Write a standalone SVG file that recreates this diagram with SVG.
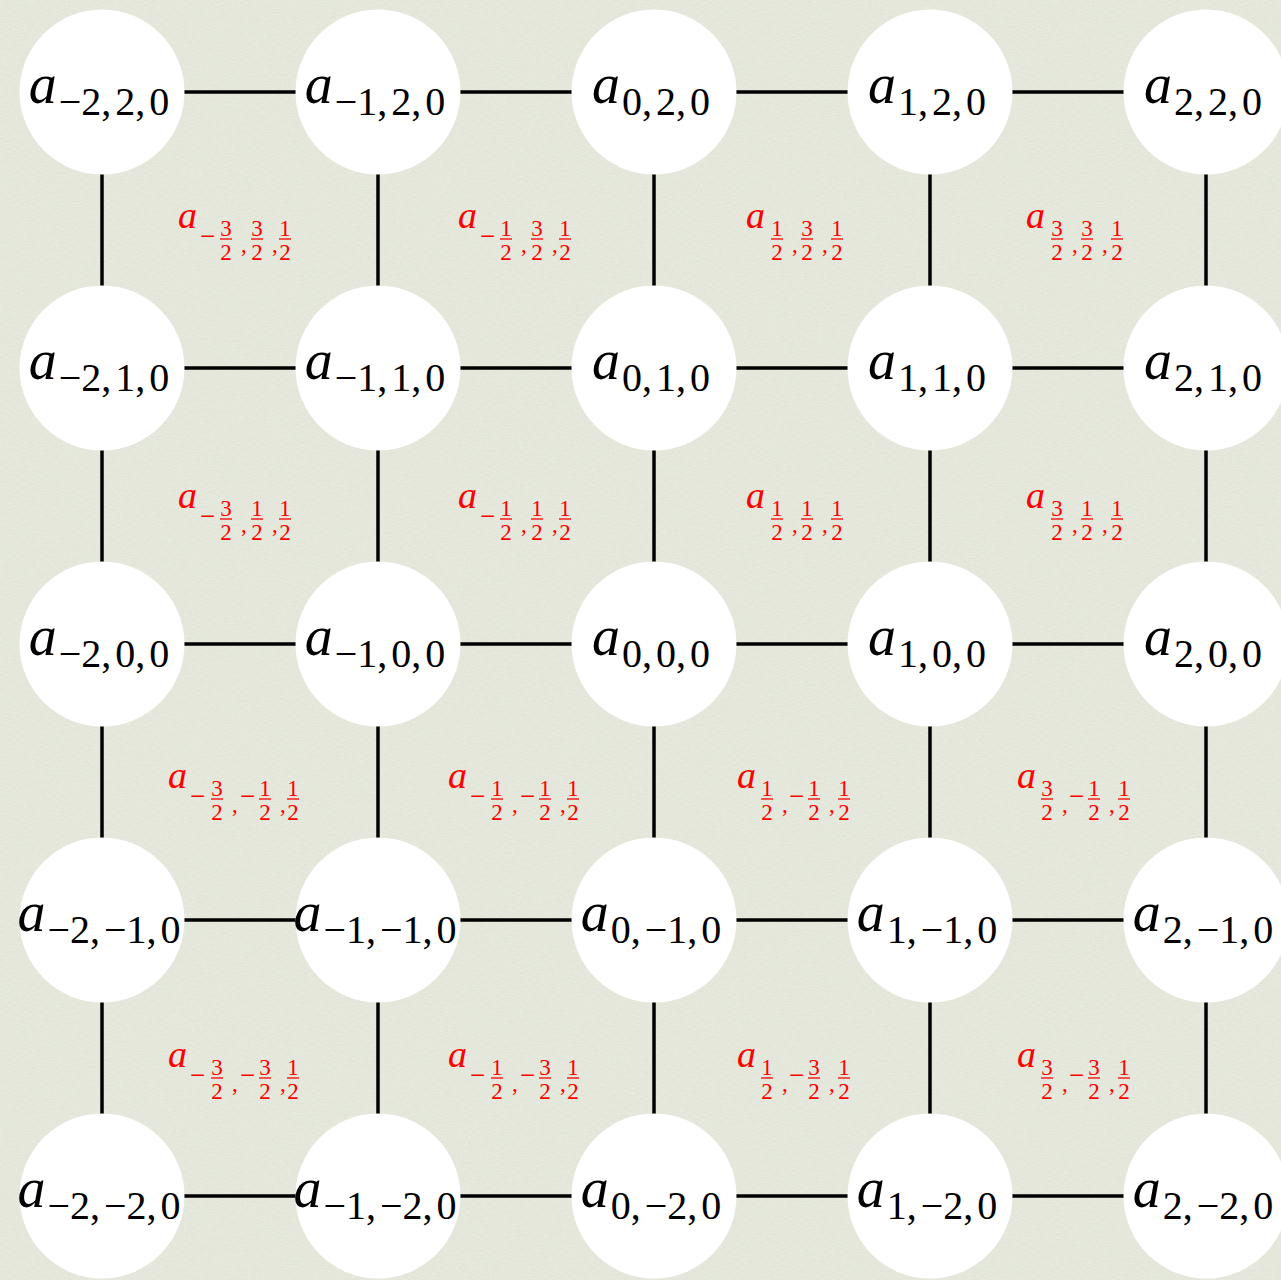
<svg xmlns="http://www.w3.org/2000/svg" width="1281" height="1280" viewBox="0 0 1281 1280">
<defs>
<filter id="tex" x="0" y="0" width="100%" height="100%">
<feTurbulence type="fractalNoise" baseFrequency="0.25 0.9" numOctaves="2" seed="7" result="n"/>
<feColorMatrix in="n" type="matrix" values="0 0 0 0 1  0 0 0 0 1  0 0 0 0 1  0.5 0 0 0 -0.18"/>
</filter>
</defs>
<style>
.node circle{fill:#ffffff;stroke:none}
.edges line{stroke:#000000;stroke-width:3.5}
.n{fill:#000000;text-anchor:middle}
.n .a{font-style:italic;font-size:56px}
.n .s{font-size:40px}
.r text{fill:#ff0000}
.r .ra{font-style:italic;font-size:38px}
.r .d{font-size:23px;text-anchor:middle}
.r .m{font-size:27px}
.r .c{font-size:23px}
.r line{stroke:#ff0000;stroke-width:1.3}
</style>
<rect width="1281" height="1280" fill="#e2e5d8"/>
<rect width="1281" height="1280" fill="#000" filter="url(#tex)"/>

<g id="connectors" class="edges">
<line x1="184" y1="92" x2="296" y2="92"/><line x1="460" y1="92" x2="572" y2="92"/><line x1="736" y1="92" x2="848" y2="92"/><line x1="1012" y1="92" x2="1124" y2="92"/>
<line x1="184" y1="368" x2="296" y2="368"/><line x1="460" y1="368" x2="572" y2="368"/><line x1="736" y1="368" x2="848" y2="368"/><line x1="1012" y1="368" x2="1124" y2="368"/>
<line x1="184" y1="644" x2="296" y2="644"/><line x1="460" y1="644" x2="572" y2="644"/><line x1="736" y1="644" x2="848" y2="644"/><line x1="1012" y1="644" x2="1124" y2="644"/>
<line x1="184" y1="920" x2="296" y2="920"/><line x1="460" y1="920" x2="572" y2="920"/><line x1="736" y1="920" x2="848" y2="920"/><line x1="1012" y1="920" x2="1124" y2="920"/>
<line x1="184" y1="1196" x2="296" y2="1196"/><line x1="460" y1="1196" x2="572" y2="1196"/><line x1="736" y1="1196" x2="848" y2="1196"/><line x1="1012" y1="1196" x2="1124" y2="1196"/>
<line x1="102" y1="174" x2="102" y2="286"/><line x1="378" y1="174" x2="378" y2="286"/><line x1="654" y1="174" x2="654" y2="286"/><line x1="930" y1="174" x2="930" y2="286"/><line x1="1206" y1="174" x2="1206" y2="286"/>
<line x1="102" y1="450" x2="102" y2="562"/><line x1="378" y1="450" x2="378" y2="562"/><line x1="654" y1="450" x2="654" y2="562"/><line x1="930" y1="450" x2="930" y2="562"/><line x1="1206" y1="450" x2="1206" y2="562"/>
<line x1="102" y1="726" x2="102" y2="838"/><line x1="378" y1="726" x2="378" y2="838"/><line x1="654" y1="726" x2="654" y2="838"/><line x1="930" y1="726" x2="930" y2="838"/><line x1="1206" y1="726" x2="1206" y2="838"/>
<line x1="102" y1="1002" x2="102" y2="1114"/><line x1="378" y1="1002" x2="378" y2="1114"/><line x1="654" y1="1002" x2="654" y2="1114"/><line x1="930" y1="1002" x2="930" y2="1114"/><line x1="1206" y1="1002" x2="1206" y2="1114"/>
</g>

<g font-family="'Liberation Serif', serif">
<!-- row y=2 -->
<g id="n-m2-2" class="node"><circle cx="102" cy="92" r="82.5"/><text class="n" x="99" y="103"><tspan class="a">a</tspan><tspan class="s" dy="12" dx="2">−2,</tspan><tspan class="s" dx="4">2,</tspan><tspan class="s" dx="4">0</tspan></text></g>
<g id="n-m1-2" class="node"><circle cx="378" cy="92" r="82.5"/><text class="n" x="375" y="103"><tspan class="a">a</tspan><tspan class="s" dy="12" dx="2">−1,</tspan><tspan class="s" dx="4">2,</tspan><tspan class="s" dx="4">0</tspan></text></g>
<g id="n-0-2" class="node"><circle cx="654" cy="92" r="82.5"/><text class="n" x="651" y="103"><tspan class="a">a</tspan><tspan class="s" dy="12" dx="2">0,</tspan><tspan class="s" dx="4">2,</tspan><tspan class="s" dx="4">0</tspan></text></g>
<g id="n-1-2" class="node"><circle cx="930" cy="92" r="82.5"/><text class="n" x="927" y="103"><tspan class="a">a</tspan><tspan class="s" dy="12" dx="2">1,</tspan><tspan class="s" dx="4">2,</tspan><tspan class="s" dx="4">0</tspan></text></g>
<g id="n-2-2" class="node"><circle cx="1206" cy="92" r="82.5"/><text class="n" x="1203" y="103"><tspan class="a">a</tspan><tspan class="s" dy="12" dx="2">2,</tspan><tspan class="s" dx="4">2,</tspan><tspan class="s" dx="4">0</tspan></text></g>
<!-- row y=1 -->
<g id="n-m2-1" class="node"><circle cx="102" cy="368" r="82.5"/><text class="n" x="99" y="379"><tspan class="a">a</tspan><tspan class="s" dy="12" dx="2">−2,</tspan><tspan class="s" dx="4">1,</tspan><tspan class="s" dx="4">0</tspan></text></g>
<g id="n-m1-1" class="node"><circle cx="378" cy="368" r="82.5"/><text class="n" x="375" y="379"><tspan class="a">a</tspan><tspan class="s" dy="12" dx="2">−1,</tspan><tspan class="s" dx="4">1,</tspan><tspan class="s" dx="4">0</tspan></text></g>
<g id="n-0-1" class="node"><circle cx="654" cy="368" r="82.5"/><text class="n" x="651" y="379"><tspan class="a">a</tspan><tspan class="s" dy="12" dx="2">0,</tspan><tspan class="s" dx="4">1,</tspan><tspan class="s" dx="4">0</tspan></text></g>
<g id="n-1-1" class="node"><circle cx="930" cy="368" r="82.5"/><text class="n" x="927" y="379"><tspan class="a">a</tspan><tspan class="s" dy="12" dx="2">1,</tspan><tspan class="s" dx="4">1,</tspan><tspan class="s" dx="4">0</tspan></text></g>
<g id="n-2-1" class="node"><circle cx="1206" cy="368" r="82.5"/><text class="n" x="1203" y="379"><tspan class="a">a</tspan><tspan class="s" dy="12" dx="2">2,</tspan><tspan class="s" dx="4">1,</tspan><tspan class="s" dx="4">0</tspan></text></g>
<!-- row y=0 -->
<g id="n-m2-0" class="node"><circle cx="102" cy="644" r="82.5"/><text class="n" x="99" y="655"><tspan class="a">a</tspan><tspan class="s" dy="12" dx="2">−2,</tspan><tspan class="s" dx="4">0,</tspan><tspan class="s" dx="4">0</tspan></text></g>
<g id="n-m1-0" class="node"><circle cx="378" cy="644" r="82.5"/><text class="n" x="375" y="655"><tspan class="a">a</tspan><tspan class="s" dy="12" dx="2">−1,</tspan><tspan class="s" dx="4">0,</tspan><tspan class="s" dx="4">0</tspan></text></g>
<g id="n-0-0" class="node"><circle cx="654" cy="644" r="82.5"/><text class="n" x="651" y="655"><tspan class="a">a</tspan><tspan class="s" dy="12" dx="2">0,</tspan><tspan class="s" dx="4">0,</tspan><tspan class="s" dx="4">0</tspan></text></g>
<g id="n-1-0" class="node"><circle cx="930" cy="644" r="82.5"/><text class="n" x="927" y="655"><tspan class="a">a</tspan><tspan class="s" dy="12" dx="2">1,</tspan><tspan class="s" dx="4">0,</tspan><tspan class="s" dx="4">0</tspan></text></g>
<g id="n-2-0" class="node"><circle cx="1206" cy="644" r="82.5"/><text class="n" x="1203" y="655"><tspan class="a">a</tspan><tspan class="s" dy="12" dx="2">2,</tspan><tspan class="s" dx="4">0,</tspan><tspan class="s" dx="4">0</tspan></text></g>
<!-- row y=-1 -->
<g id="n-m2-m1" class="node"><circle cx="102" cy="920" r="82.5"/><text class="n" x="99" y="931"><tspan class="a">a</tspan><tspan class="s" dy="12" dx="2">−2,</tspan><tspan class="s" dx="4">−1,</tspan><tspan class="s" dx="4">0</tspan></text></g>
<g id="n-m1-m1" class="node"><circle cx="378" cy="920" r="82.5"/><text class="n" x="375" y="931"><tspan class="a">a</tspan><tspan class="s" dy="12" dx="2">−1,</tspan><tspan class="s" dx="4">−1,</tspan><tspan class="s" dx="4">0</tspan></text></g>
<g id="n-0-m1" class="node"><circle cx="654" cy="920" r="82.5"/><text class="n" x="651" y="931"><tspan class="a">a</tspan><tspan class="s" dy="12" dx="2">0,</tspan><tspan class="s" dx="4">−1,</tspan><tspan class="s" dx="4">0</tspan></text></g>
<g id="n-1-m1" class="node"><circle cx="930" cy="920" r="82.5"/><text class="n" x="927" y="931"><tspan class="a">a</tspan><tspan class="s" dy="12" dx="2">1,</tspan><tspan class="s" dx="4">−1,</tspan><tspan class="s" dx="4">0</tspan></text></g>
<g id="n-2-m1" class="node"><circle cx="1206" cy="920" r="82.5"/><text class="n" x="1203" y="931"><tspan class="a">a</tspan><tspan class="s" dy="12" dx="2">2,</tspan><tspan class="s" dx="4">−1,</tspan><tspan class="s" dx="4">0</tspan></text></g>
<!-- row y=-2 -->
<g id="n-m2-m2" class="node"><circle cx="102" cy="1196" r="82.5"/><text class="n" x="99" y="1207"><tspan class="a">a</tspan><tspan class="s" dy="12" dx="2">−2,</tspan><tspan class="s" dx="4">−2,</tspan><tspan class="s" dx="4">0</tspan></text></g>
<g id="n-m1-m2" class="node"><circle cx="378" cy="1196" r="82.5"/><text class="n" x="375" y="1207"><tspan class="a">a</tspan><tspan class="s" dy="12" dx="2">−1,</tspan><tspan class="s" dx="4">−2,</tspan><tspan class="s" dx="4">0</tspan></text></g>
<g id="n-0-m2" class="node"><circle cx="654" cy="1196" r="82.5"/><text class="n" x="651" y="1207"><tspan class="a">a</tspan><tspan class="s" dy="12" dx="2">0,</tspan><tspan class="s" dx="4">−2,</tspan><tspan class="s" dx="4">0</tspan></text></g>
<g id="n-1-m2" class="node"><circle cx="930" cy="1196" r="82.5"/><text class="n" x="927" y="1207"><tspan class="a">a</tspan><tspan class="s" dy="12" dx="2">1,</tspan><tspan class="s" dx="4">−2,</tspan><tspan class="s" dx="4">0</tspan></text></g>
<g id="n-2-m2" class="node"><circle cx="1206" cy="1196" r="82.5"/><text class="n" x="1203" y="1207"><tspan class="a">a</tspan><tspan class="s" dy="12" dx="2">2,</tspan><tspan class="s" dx="4">−2,</tspan><tspan class="s" dx="4">0</tspan></text></g>

<!-- red cell labels; case A: (-,+,+) -->
<g id="c-m3-3" class="r" transform="translate(178,228)"><text class="ra" x="0" y="0">a</text><text class="m" x="22" y="17">−</text><text class="d" x="48" y="8">3</text><line x1="42" y1="11" x2="54" y2="11"/><text class="d" x="48" y="32">2</text><text class="c" x="63" y="24">,</text><text class="d" x="79" y="8">3</text><line x1="73" y1="11" x2="85" y2="11"/><text class="d" x="79" y="32">2</text><text class="c" x="94" y="24">,</text><text class="d" x="107" y="8">1</text><line x1="101" y1="11" x2="113" y2="11"/><text class="d" x="107" y="32">2</text></g>
<g id="c-m1-3" class="r" transform="translate(458,228)"><text class="ra" x="0" y="0">a</text><text class="m" x="22" y="17">−</text><text class="d" x="48" y="8">1</text><line x1="42" y1="11" x2="54" y2="11"/><text class="d" x="48" y="32">2</text><text class="c" x="63" y="24">,</text><text class="d" x="79" y="8">3</text><line x1="73" y1="11" x2="85" y2="11"/><text class="d" x="79" y="32">2</text><text class="c" x="94" y="24">,</text><text class="d" x="107" y="8">1</text><line x1="101" y1="11" x2="113" y2="11"/><text class="d" x="107" y="32">2</text></g>
<g id="c-m3-1" class="r" transform="translate(178,508)"><text class="ra" x="0" y="0">a</text><text class="m" x="22" y="17">−</text><text class="d" x="48" y="8">3</text><line x1="42" y1="11" x2="54" y2="11"/><text class="d" x="48" y="32">2</text><text class="c" x="63" y="24">,</text><text class="d" x="79" y="8">1</text><line x1="73" y1="11" x2="85" y2="11"/><text class="d" x="79" y="32">2</text><text class="c" x="94" y="24">,</text><text class="d" x="107" y="8">1</text><line x1="101" y1="11" x2="113" y2="11"/><text class="d" x="107" y="32">2</text></g>
<g id="c-m1-1" class="r" transform="translate(458,508)"><text class="ra" x="0" y="0">a</text><text class="m" x="22" y="17">−</text><text class="d" x="48" y="8">1</text><line x1="42" y1="11" x2="54" y2="11"/><text class="d" x="48" y="32">2</text><text class="c" x="63" y="24">,</text><text class="d" x="79" y="8">1</text><line x1="73" y1="11" x2="85" y2="11"/><text class="d" x="79" y="32">2</text><text class="c" x="94" y="24">,</text><text class="d" x="107" y="8">1</text><line x1="101" y1="11" x2="113" y2="11"/><text class="d" x="107" y="32">2</text></g>
<!-- case B: (+,+,+) -->
<g id="c-1-3" class="r" transform="translate(746,228)"><text class="ra" x="0" y="0">a</text><text class="d" x="31" y="8">1</text><line x1="25" y1="11" x2="37" y2="11"/><text class="d" x="31" y="32">2</text><text class="c" x="46" y="24">,</text><text class="d" x="61" y="8">3</text><line x1="55" y1="11" x2="67" y2="11"/><text class="d" x="61" y="32">2</text><text class="c" x="76" y="24">,</text><text class="d" x="91" y="8">1</text><line x1="85" y1="11" x2="97" y2="11"/><text class="d" x="91" y="32">2</text></g>
<g id="c-3-3" class="r" transform="translate(1026,228)"><text class="ra" x="0" y="0">a</text><text class="d" x="31" y="8">3</text><line x1="25" y1="11" x2="37" y2="11"/><text class="d" x="31" y="32">2</text><text class="c" x="46" y="24">,</text><text class="d" x="61" y="8">3</text><line x1="55" y1="11" x2="67" y2="11"/><text class="d" x="61" y="32">2</text><text class="c" x="76" y="24">,</text><text class="d" x="91" y="8">1</text><line x1="85" y1="11" x2="97" y2="11"/><text class="d" x="91" y="32">2</text></g>
<g id="c-1-1" class="r" transform="translate(746,508)"><text class="ra" x="0" y="0">a</text><text class="d" x="31" y="8">1</text><line x1="25" y1="11" x2="37" y2="11"/><text class="d" x="31" y="32">2</text><text class="c" x="46" y="24">,</text><text class="d" x="61" y="8">1</text><line x1="55" y1="11" x2="67" y2="11"/><text class="d" x="61" y="32">2</text><text class="c" x="76" y="24">,</text><text class="d" x="91" y="8">1</text><line x1="85" y1="11" x2="97" y2="11"/><text class="d" x="91" y="32">2</text></g>
<g id="c-3-1" class="r" transform="translate(1026,508)"><text class="ra" x="0" y="0">a</text><text class="d" x="31" y="8">3</text><line x1="25" y1="11" x2="37" y2="11"/><text class="d" x="31" y="32">2</text><text class="c" x="46" y="24">,</text><text class="d" x="61" y="8">1</text><line x1="55" y1="11" x2="67" y2="11"/><text class="d" x="61" y="32">2</text><text class="c" x="76" y="24">,</text><text class="d" x="91" y="8">1</text><line x1="85" y1="11" x2="97" y2="11"/><text class="d" x="91" y="32">2</text></g>
<!-- case C: (-,-,+) -->
<g id="c-m3-m1" class="r" transform="translate(168,788)"><text class="ra" x="0" y="0">a</text><text class="m" x="22" y="17">−</text><text class="d" x="49" y="8">3</text><line x1="43" y1="11" x2="55" y2="11"/><text class="d" x="49" y="32">2</text><text class="c" x="64" y="24">,</text><text class="m" x="72" y="17">−</text><text class="d" x="97" y="8">1</text><line x1="91" y1="11" x2="103" y2="11"/><text class="d" x="97" y="32">2</text><text class="c" x="112" y="24">,</text><text class="d" x="125" y="8">1</text><line x1="119" y1="11" x2="131" y2="11"/><text class="d" x="125" y="32">2</text></g>
<g id="c-m1-m1" class="r" transform="translate(448,788)"><text class="ra" x="0" y="0">a</text><text class="m" x="22" y="17">−</text><text class="d" x="49" y="8">1</text><line x1="43" y1="11" x2="55" y2="11"/><text class="d" x="49" y="32">2</text><text class="c" x="64" y="24">,</text><text class="m" x="72" y="17">−</text><text class="d" x="97" y="8">1</text><line x1="91" y1="11" x2="103" y2="11"/><text class="d" x="97" y="32">2</text><text class="c" x="112" y="24">,</text><text class="d" x="125" y="8">1</text><line x1="119" y1="11" x2="131" y2="11"/><text class="d" x="125" y="32">2</text></g>
<g id="c-m3-m3" class="r" transform="translate(168,1067)"><text class="ra" x="0" y="0">a</text><text class="m" x="22" y="17">−</text><text class="d" x="49" y="8">3</text><line x1="43" y1="11" x2="55" y2="11"/><text class="d" x="49" y="32">2</text><text class="c" x="64" y="24">,</text><text class="m" x="72" y="17">−</text><text class="d" x="97" y="8">3</text><line x1="91" y1="11" x2="103" y2="11"/><text class="d" x="97" y="32">2</text><text class="c" x="112" y="24">,</text><text class="d" x="125" y="8">1</text><line x1="119" y1="11" x2="131" y2="11"/><text class="d" x="125" y="32">2</text></g>
<g id="c-m1-m3" class="r" transform="translate(448,1067)"><text class="ra" x="0" y="0">a</text><text class="m" x="22" y="17">−</text><text class="d" x="49" y="8">1</text><line x1="43" y1="11" x2="55" y2="11"/><text class="d" x="49" y="32">2</text><text class="c" x="64" y="24">,</text><text class="m" x="72" y="17">−</text><text class="d" x="97" y="8">3</text><line x1="91" y1="11" x2="103" y2="11"/><text class="d" x="97" y="32">2</text><text class="c" x="112" y="24">,</text><text class="d" x="125" y="8">1</text><line x1="119" y1="11" x2="131" y2="11"/><text class="d" x="125" y="32">2</text></g>
<!-- case D: (+,-,+) -->
<g id="c-1-m1" class="r" transform="translate(737,788)"><text class="ra" x="0" y="0">a</text><text class="d" x="30" y="8">1</text><line x1="24" y1="11" x2="36" y2="11"/><text class="d" x="30" y="32">2</text><text class="c" x="45" y="24">,</text><text class="m" x="52" y="17">−</text><text class="d" x="77" y="8">1</text><line x1="71" y1="11" x2="83" y2="11"/><text class="d" x="77" y="32">2</text><text class="c" x="92" y="24">,</text><text class="d" x="107" y="8">1</text><line x1="101" y1="11" x2="113" y2="11"/><text class="d" x="107" y="32">2</text></g>
<g id="c-3-m1" class="r" transform="translate(1017,788)"><text class="ra" x="0" y="0">a</text><text class="d" x="30" y="8">3</text><line x1="24" y1="11" x2="36" y2="11"/><text class="d" x="30" y="32">2</text><text class="c" x="45" y="24">,</text><text class="m" x="52" y="17">−</text><text class="d" x="77" y="8">1</text><line x1="71" y1="11" x2="83" y2="11"/><text class="d" x="77" y="32">2</text><text class="c" x="92" y="24">,</text><text class="d" x="107" y="8">1</text><line x1="101" y1="11" x2="113" y2="11"/><text class="d" x="107" y="32">2</text></g>
<g id="c-1-m3" class="r" transform="translate(737,1067)"><text class="ra" x="0" y="0">a</text><text class="d" x="30" y="8">1</text><line x1="24" y1="11" x2="36" y2="11"/><text class="d" x="30" y="32">2</text><text class="c" x="45" y="24">,</text><text class="m" x="52" y="17">−</text><text class="d" x="77" y="8">3</text><line x1="71" y1="11" x2="83" y2="11"/><text class="d" x="77" y="32">2</text><text class="c" x="92" y="24">,</text><text class="d" x="107" y="8">1</text><line x1="101" y1="11" x2="113" y2="11"/><text class="d" x="107" y="32">2</text></g>
<g id="c-3-m3" class="r" transform="translate(1017,1067)"><text class="ra" x="0" y="0">a</text><text class="d" x="30" y="8">3</text><line x1="24" y1="11" x2="36" y2="11"/><text class="d" x="30" y="32">2</text><text class="c" x="45" y="24">,</text><text class="m" x="52" y="17">−</text><text class="d" x="77" y="8">3</text><line x1="71" y1="11" x2="83" y2="11"/><text class="d" x="77" y="32">2</text><text class="c" x="92" y="24">,</text><text class="d" x="107" y="8">1</text><line x1="101" y1="11" x2="113" y2="11"/><text class="d" x="107" y="32">2</text></g>
</g>
</svg>
